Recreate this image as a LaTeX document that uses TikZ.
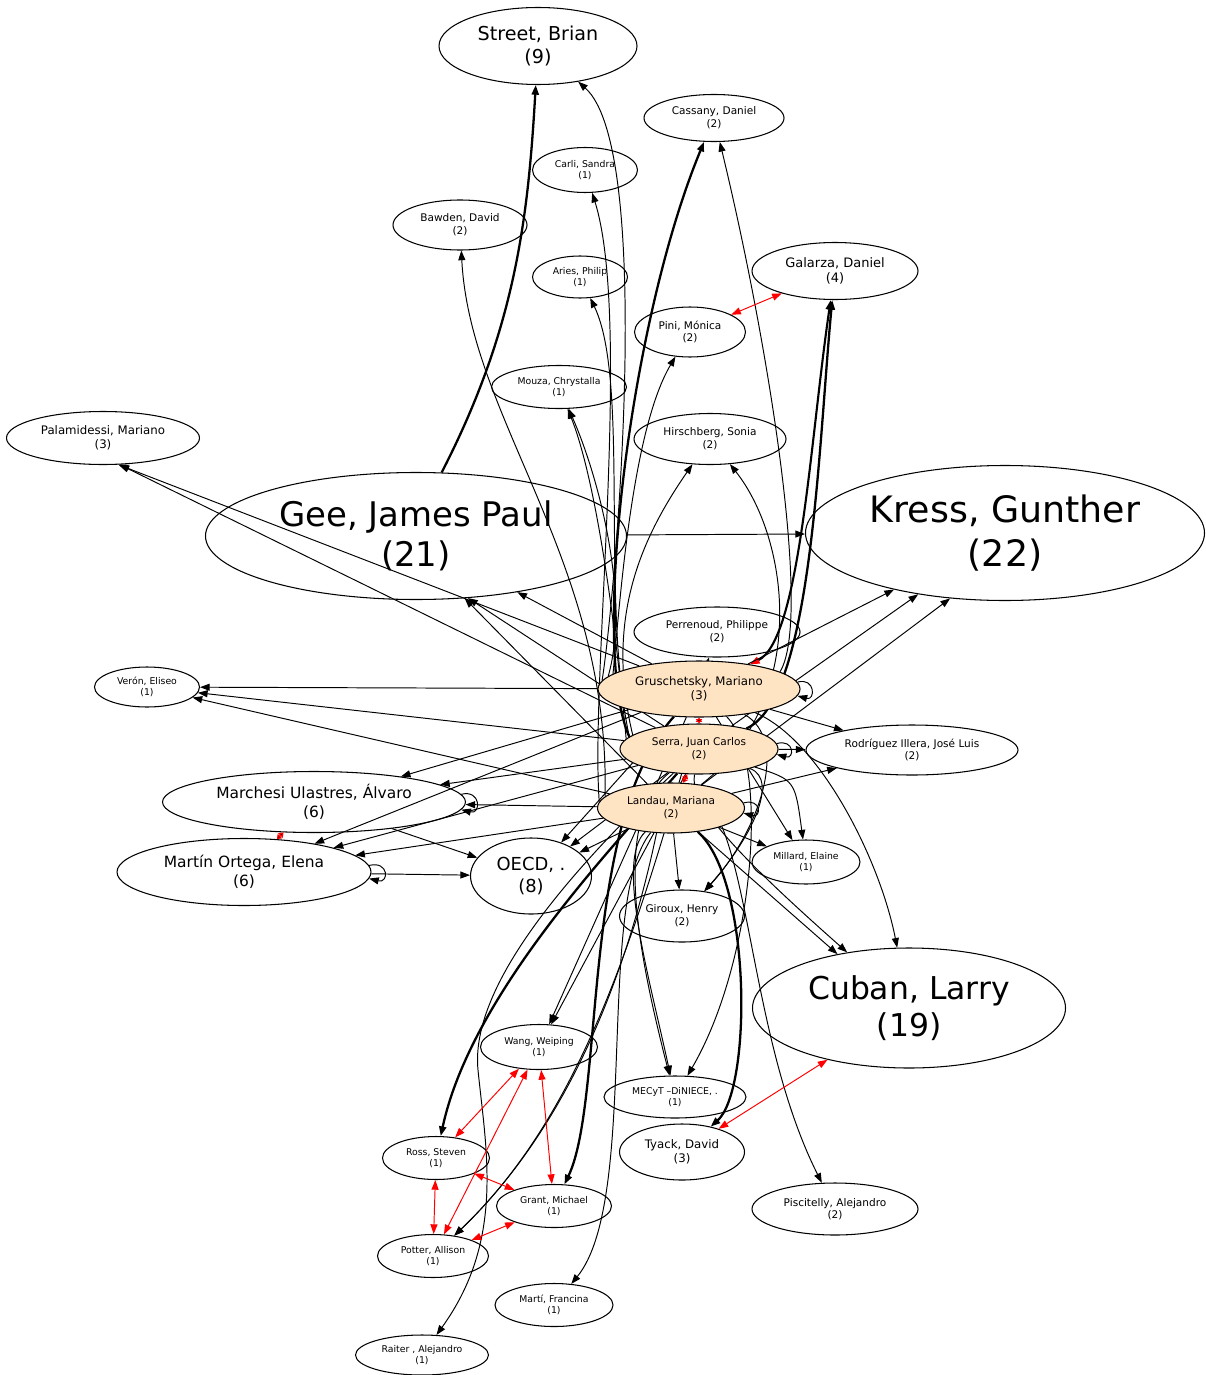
\documentclass[tikz,border=0pt]{standalone}
\usepackage{fontspec}
\setmainfont{DejaVu Sans}
\usepackage{tikz}
\usetikzlibrary{shapes.geometric, arrows.meta, backgrounds}
\definecolor{crema}{HTML}{FFE4C4}
\definecolor{rojo}{HTML}{FF0000}
\newcommand{\letra}[1]{\pgfmathsetmacro\tamletra{4.6+0.7*#1}\pgfmathsetmacro\sepletra{1.2*\tamletra}\fontsize{\tamletra}{\sepletra}\selectfont}

\begin{document}
\begin{tikzpicture}[
      x=0.02cm, y=-0.02cm,
      autor/.style={ellipse, draw, line width=0.6pt, inner sep=0pt, align=center},
      fuente/.style={autor, fill=crema},
      tam/.style 2 args={minimum width=#1*0.02cm, minimum height=#2*0.02cm},
      peso/.style={font=\letra{#1}},
      arco/.style={-{Triangle[length=5.5pt,width=4pt]}, line width=0.55pt},
      grueso/.style={arco, line width=1.3pt},
      mixto/.style={{Triangle[color=rojo,length=5.5pt,width=4pt]}-{Triangle[length=5.5pt,width=4pt]}, line width=1.2pt},
      mutuo/.style={rojo, line width=0.55pt, {Triangle[length=5.5pt,width=4pt]}-{Triangle[length=5.5pt,width=4pt]}},
      mutuocorto/.style={rojo, line width=0.9pt, {Triangle[length=2.5pt,width=3.5pt,fill=black]}-{Triangle[length=2.5pt,width=3.5pt,fill=black]}}
    ]
    \useasboundingbox (0,0) rectangle (1205,1375);
    % Autores
    \node[autor, tam={198}{77}, peso=9] (street) at (538,46) {Street, Brian\\(9)};
    \node[autor, tam={140}{47}, peso=2] (cassany) at (714,118) {Cassany, Daniel\\(2)};
    \node[autor, tam={105}{45}, peso=1] (carli) at (585,170) {Carli, Sandra\\(1)};
    \node[autor, tam={134}{50}, peso=2] (bawden) at (460,225) {Bawden, David\\(2)};
    \node[autor, tam={166}{57}, peso=4] (galarza) at (835,271) {Galarza, Daniel\\(4)};
    \node[autor, tam={95}{42}, peso=1] (aries) at (580,277) {Aries, Philip\\(1)};
    \node[autor, tam={111}{50}, peso=2] (pini) at (690,332) {Pini, Mónica\\(2)};
    \node[autor, tam={135}{43}, peso=1] (mouza) at (559,387) {Mouza, Chrystalla\\(1)};
    \node[autor, tam={193}{53}, peso=3] (palamidessi) at (103,438) {Palamidessi, Mariano\\(3)};
    \node[autor, tam={152}{51}, peso=2] (hirschberg) at (710,439) {Hirschberg, Sonia\\(2)};
    \node[autor, tam={421}{127}, peso=21] (gee) at (416,536) {Gee, James Paul\\(21)};
    \node[autor, tam={399}{135}, peso=23] (kress) at (1005,533) {Kress, Gunther\\(22)};
    \node[autor, tam={166}{50}, peso=2] (perrenoud) at (717,632) {Perrenoud, Philippe\\(2)};
    \node[autor, tam={105}{40}, peso=1] (veron) at (147,687) {Verón, Eliseo\\(1)};
    \node[fuente, tam={202}{56}, peso=3] (gru) at (699,689) {Gruschetsky, Mariano\\(3)};
    \node[fuente, tam={158}{50}, peso=2] (ser) at (699,749) {Serra, Juan Carlos\\(2)};
    \node[autor, tam={212}{50}, peso=2] (rodriguez) at (912,750) {Rodríguez Illera, José Luis\\(2)};
    \node[autor, tam={303}{61}, peso=6] (marchesi) at (314,802) {Marchesi Ulastres, Álvaro\\(6)};
    \node[fuente, tam={147}{50}, peso=2] (lan) at (671,808) {Landau, Mariana\\(2)};
    \node[autor, tam={254}{67}, peso=6] (martin) at (244,872) {Martín Ortega, Elena\\(6)};
    \node[autor, tam={121}{76}, peso=8] (oecd) at (531,876) {OECD, .\\(8)};
    \node[autor, tam={108}{44}, peso=1] (millard) at (806,862) {Millard, Elaine\\(1)};
    \node[autor, tam={125}{52}, peso=2] (giroux) at (682,916) {Giroux, Henry\\(2)};
    \node[autor, tam={313}{120}, peso=19] (cuban) at (909,1008) {Cuban, Larry\\(19)};
    \node[autor, tam={117}{45}, peso=1] (wang) at (539,1047) {Wang, Weiping\\(1)};
    \node[autor, tam={142}{42}, peso=1] (mecyt) at (675,1097) {MECyT –DiNIECE, .\\(1)};
    \node[autor, tam={125}{56}, peso=3] (tyack) at (682,1152) {Tyack, David\\(3)};
    \node[autor, tam={107}{43}, peso=1] (ross) at (436,1158) {Ross, Steven\\(1)};
    \node[autor, tam={166}{52}, peso=2] (piscitelly) at (835,1209) {Piscitelly, Alejandro\\(2)};
    \node[autor, tam={115}{43}, peso=1] (grant) at (554,1206) {Grant, Michael\\(1)};
    \node[autor, tam={111}{43}, peso=1] (potter) at (433,1256) {Potter, Allison\\(1)};
    \node[autor, tam={118}{43}, peso=1] (marti) at (554,1305) {Martí, Francina\\(1)};
    \node[autor, tam={133}{40}, peso=1] (raiter) at (422,1355) {Raiter , Alejandro\\(1)};

    \begin{scope}[on background layer]
    % Citas hacia arriba
    \draw[grueso] (gee.68) .. controls (515,330) and (528,220) .. (street);
    \draw[arco] (gru.175) .. controls (615,600) and (655,150) .. (street);
    \draw[grueso] (ser.170) .. controls (590,650) and (630,320) .. (cassany);
    \draw[arco] (gru.12) .. controls (812,620) and (770,350) .. (cassany);
    \draw[arco] (lan.175) .. controls (590,680) and (632,320) .. (carli);
    \draw[arco] (lan.170) .. controls (610,560) and (470,420) .. (bawden);
    \draw[arco] (ser.170) .. controls (600,600) and (630,380) .. (aries);
    \draw[arco] (gru.170) .. controls (620,600) and (632,430) .. (pini);
    \draw[arco] (gru.172) .. controls (630,600) and (600,480) .. (mouza);
    \draw[arco] (ser.172) .. controls (615,620) and (596,480) .. (mouza);
    \draw[arco] (ser.168) .. controls (605,620) and (640,540) .. (hirschberg);
    \draw[arco] (lan) .. controls (810,700) and (790,540) .. (hirschberg);
    \draw[mixto] (gru) .. controls (800,640) and (810,440) .. (galarza);
    \draw[grueso] (ser) .. controls (812,700) and (818,450) .. (galarza);

    % Citas hacia los lados
    \draw[arco] (gru) -- (palamidessi.300);
    \draw[arco] (ser) -- (palamidessi.302);
    \draw[arco] (gru) -- (gee.-29);
    \draw[arco] (ser) -- (gee.-50);
    \draw[arco] (lan) -- (gee.-52);
    \draw[arco] (gee) -- (kress);
    \draw[arco] (gru) -- (kress);
    \draw[arco] (ser) -- (kress);
    \draw[arco] (lan) -- (kress.-130);
    \draw[arco] (gru) -- (perrenoud);
    \draw[arco] (gru) -- (veron);
    \draw[arco] (ser) -- (veron);
    \draw[arco] (lan) -- (veron);
    \draw[arco] (gru) -- (rodriguez);
    \draw[arco] (ser) -- (rodriguez);
    \draw[arco] (lan) -- (rodriguez);
    \draw[arco] (gru) -- (marchesi);
    \draw[arco] (ser) -- (marchesi);
    \draw[arco] (lan) -- (marchesi);
    \draw[arco] (gru) -- (martin);
    \draw[arco] (ser) -- (martin);
    \draw[arco] (lan) -- (martin);
    \draw[arco] (gru) -- (oecd);
    \draw[arco] (ser) -- (oecd);
    \draw[arco] (lan) -- (oecd);
    \draw[arco] (marchesi) -- (oecd);
    \draw[arco] (martin) -- (oecd);
    \draw[arco] (gru) -- (millard);
    \draw[arco] (ser) .. controls (795,780) .. (millard);
    \draw[arco] (lan) -- (millard);
    \draw[arco] (lan) -- (giroux);
    \draw[arco] (gru) .. controls (790,740) and (760,830) .. (giroux);
    \draw[arco] (ser) .. controls (780,780) and (750,840) .. (giroux);
    \draw[arco] (gru) .. controls (820,740) and (880,860) .. (cuban);
    \draw[arco] (ser) .. controls (690,800) and (720,840) .. (cuban.138);
    \draw[arco] (lan) -- (cuban.143);

    % Citas hacia abajo
    \draw[arco] (gru) -- (wang);
    \draw[arco] (ser) -- (wang);
    \draw[arco] (ser) .. controls (610,820) and (640,960) .. (mecyt);
    \draw[arco] (lan) .. controls (615,860) and (650,980) .. (mecyt);
    \draw[arco] (gru) .. controls (770,760) and (755,960) .. (mecyt);
    \draw[grueso] (lan) .. controls (752,880) and (752,1090) .. (tyack);
    \draw[grueso] (ser) .. controls (600,860) and (470,1000) .. (ross);
    \draw[grueso] (gru) .. controls (580,820) and (605,1100) .. (grant);
    \draw[arco] (lan.-120) .. controls (630,960) and (575,1120) .. (potter);
    \draw[arco] (ser.-125) .. controls (625,970) and (570,1125) .. (potter);
    \draw[arco] (lan) .. controls (595,900) and (640,1200) .. (marti);
    \draw[arco] (ser) .. controls (560,880) and (470,990) .. (478,1070)
      .. controls (486,1150) and (505,1240) .. (raiter);
    \draw[arco] (lan.-20) .. controls (752,900) and (760,1060) .. (piscitelly);
    \end{scope}

    % Autocitas
    \draw[arco] (gru.4) .. controls +(18,-5) and +(18,5) .. (gru.-4);
    \draw[arco] (ser.4) .. controls +(18,-5) and +(18,5) .. (ser.-4);
    \draw[arco] (lan.4) .. controls +(18,-5) and +(18,5) .. (lan.-4);
    \draw[arco] (marchesi.3) .. controls +(20,-5) and +(20,5) .. (marchesi.-3);
    \draw[arco] (martin.3) .. controls +(20,-5) and +(20,5) .. (martin.-3);

    % Citas mutuas
    \draw[mutuocorto] (gru) -- (ser);
    \draw[mutuocorto] (ser) -- (lan);
    \draw[mutuocorto] (marchesi) -- (martin);
    \draw[mutuo] (pini) -- (galarza);
    \draw[mutuo] (cuban) -- (tyack);
    \draw[mutuo] (wang) -- (ross);
    \draw[mutuo] (wang) -- (potter);
    \draw[mutuo] (wang) -- (grant);
    \draw[mutuo] (ross) -- (potter);
    \draw[mutuo] (ross) -- (grant);
    \draw[mutuo] (grant) -- (potter);
  \end{tikzpicture}
\end{document}
